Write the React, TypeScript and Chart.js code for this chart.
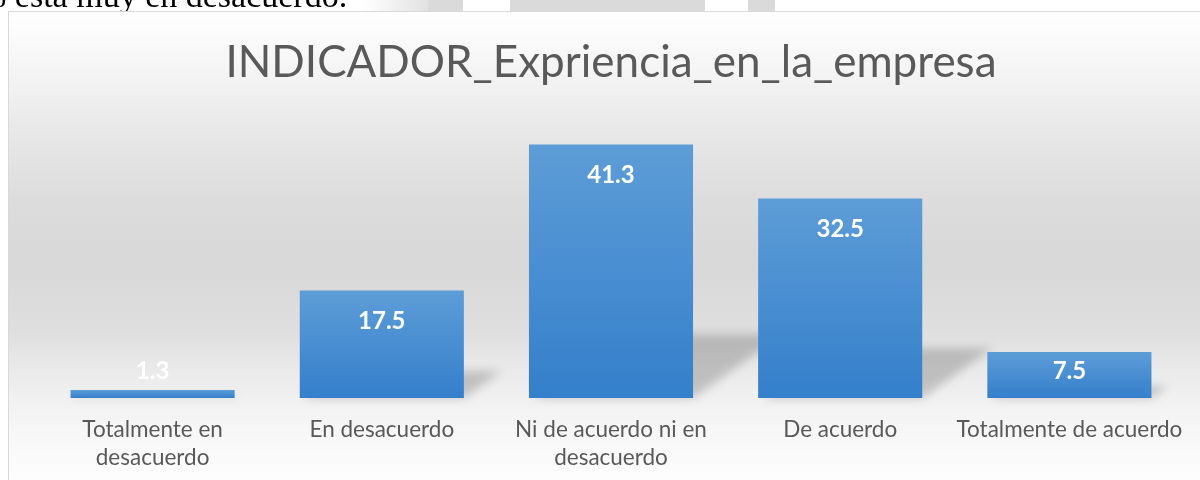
import React, { useEffect, useRef } from "react";
import { Chart, registerables } from "chart.js";

Chart.register(...registerables);

// ---- data ----
const categories: string[][] = [
  ["Totalmente en", "desacuerdo"],
  ["En desacuerdo"],
  ["Ni de acuerdo ni en", "desacuerdo"],
  ["De acuerdo"],
  ["Totalmente de acuerdo"],
];
const values: number[] = [1.3, 17.5, 41.3, 32.5, 7.5];
const titleText = "INDICADOR_Expriencia_en_la_empresa";
const docText = "% está muy en desacuerdo.";
const yMax = 45;

const BAR_TOP = "rgb(93,157,215)";
const BAR_BOTTOM = "rgb(52,127,203)";

const framePlugin = {
  id: "frame",
  beforeDraw(chart: any) {
    const ctx = chart.ctx as CanvasRenderingContext2D;
    const W = chart.width;
    const H = chart.height;
    ctx.save();
    ctx.fillStyle = "#ffffff";
    ctx.fillRect(0, 0, W, H);
    // faint watermark fragments of the page above the chart
    ctx.fillStyle = "#dadada";
    ctx.fillRect(428, 0, 35, 11);
    ctx.fillRect(510, 0, 195, 11);
    ctx.fillRect(748, 0, 27, 11);
    const wg = ctx.createLinearGradient(363, 0, 428, 0);
    wg.addColorStop(0, "rgba(218,218,218,0)");
    wg.addColorStop(1, "rgba(218,218,218,0.8)");
    ctx.fillStyle = wg;
    ctx.fillRect(363, 0, 65, 11);
    // document text line (cut off)
    ctx.fillStyle = "#000000";
    ctx.font = "34px 'Liberation Serif', 'Times New Roman', serif";
    ctx.textBaseline = "alphabetic";
    ctx.textAlign = "left";
    ctx.fillText(docText, -22, 7);
    // chart frame background
    const g = ctx.createLinearGradient(0, 12, 0, 480);
    g.addColorStop(0, "#ffffff");
    g.addColorStop(0.118, "#f5f5f5");
    g.addColorStop(0.259, "#e8e8e8");
    g.addColorStop(0.402, "#dcdcdc");
    g.addColorStop(0.545, "#d8d8d8");
    g.addColorStop(0.686, "#dfdfdf");
    g.addColorStop(0.759, "#e9e9e9");
    g.addColorStop(0.829, "#f1f1f1");
    g.addColorStop(0.9, "#f7f7f7");
    g.addColorStop(1, "#fdfdfd");
    ctx.fillStyle = g;
    ctx.fillRect(9, 12, W, H);
    ctx.strokeStyle = "#d9d9d9";
    ctx.lineWidth = 1;
    ctx.strokeRect(8.5, 11.5, W + 10, H + 10);
    ctx.restore();
  },
};

const shadowPlugin = {
  id: "barShadow",
  beforeDatasetsDraw(chart: any) {
    const ctx = chart.ctx as CanvasRenderingContext2D;
    const meta = chart.getDatasetMeta(0);
    ctx.save();
    ctx.filter = "blur(5px)";
    ctx.fillStyle = "rgba(0,0,0,0.19)";
    meta.data.forEach((bar: any) => {
      const { x, y, base, width } = bar.getProps(["x", "y", "base", "width"], true);
      const L = x - width / 2;
      const R = x + width / 2;
      const h = base - y;
      const sh = 0.25 * h;
      const dx = 1.4 * sh;
      ctx.beginPath();
      ctx.moveTo(L + 4, base);
      ctx.lineTo(R, base);
      ctx.lineTo(R + dx, base - sh);
      ctx.lineTo(L + dx, base - sh);
      ctx.closePath();
      ctx.fill();
    });
    ctx.restore();
  },
};

const labelPlugin = {
  id: "barLabels",
  afterDatasetsDraw(chart: any) {
    const ctx = chart.ctx as CanvasRenderingContext2D;
    const meta = chart.getDatasetMeta(0);
    ctx.save();
    ctx.fillStyle = "#ffffff";
    ctx.font = "bold 24px Lato, 'Open Sans', sans-serif";
    ctx.textAlign = "center";
    ctx.textBaseline = "middle";
    meta.data.forEach((bar: any, i: number) => {
      const { x, y, base } = bar.getProps(["x", "y", "base"], true);
      const cy = Math.min(y + 31, base - 27);
      ctx.fillText(values[i].toFixed(1), x, cy);
    });
    ctx.restore();
  },
};

export default function App() {
  const ref = useRef<HTMLCanvasElement | null>(null);

  useEffect(() => {
    if (!ref.current) return;
    const chart = new Chart(ref.current, {
      type: "bar",
      data: {
        labels: categories,
        datasets: [
          {
            data: values,
            backgroundColor: (c: any) => {
              const ch = c.chart;
              const ys = ch.scales && ch.scales.y;
              if (!ys || c.raw == null) return BAR_BOTTOM;
              const top = ys.getPixelForValue(c.raw);
              const base = ys.getPixelForValue(0);
              if (!isFinite(top) || !isFinite(base) || base - top < 1) return BAR_BOTTOM;
              const g = ch.ctx.createLinearGradient(0, top, 0, base);
              g.addColorStop(0, BAR_TOP);
              g.addColorStop(1, BAR_BOTTOM);
              return g;
            },
            borderWidth: 0,
            barPercentage: 0.716,
            categoryPercentage: 1,
          },
        ],
      },
      options: {
        responsive: false,
        animation: false,
        devicePixelRatio: 1,
        layout: { padding: { top: 0, left: 38, right: 16, bottom: 0 } },
        plugins: {
          legend: { display: false },
          tooltip: { enabled: false },
          title: {
            display: true,
            text: titleText,
            color: "#595959",
            font: { family: "Lato, 'Open Sans', sans-serif", size: 44, weight: "normal", lineHeight: 1.2 },
            padding: { top: 36, bottom: 33 },
          },
        },
        scales: {
          x: {
            grid: { display: false },
            border: { display: false },
            ticks: {
              color: "#595959",
              font: { family: "Lato, 'Open Sans', sans-serif", size: 22.5, lineHeight: 1.25 },
              padding: 10,
              maxRotation: 0,
              autoSkip: false,
            },
            afterFit: (scale: any) => {
              scale.height = 82;
            },
          },
          y: {
            display: false,
            min: 0,
            max: yMax,
          },
        },
      },
      plugins: [framePlugin, shadowPlugin, labelPlugin],
    } as any);
    return () => chart.destroy();
  }, []);

  return (
    <div style={{ position: "absolute", left: 0, top: 0, width: 1200, height: 480 }}>
      <canvas ref={ref} width={1200} height={480} style={{ width: 1200, height: 480, display: "block" }} />
    </div>
  );
}
